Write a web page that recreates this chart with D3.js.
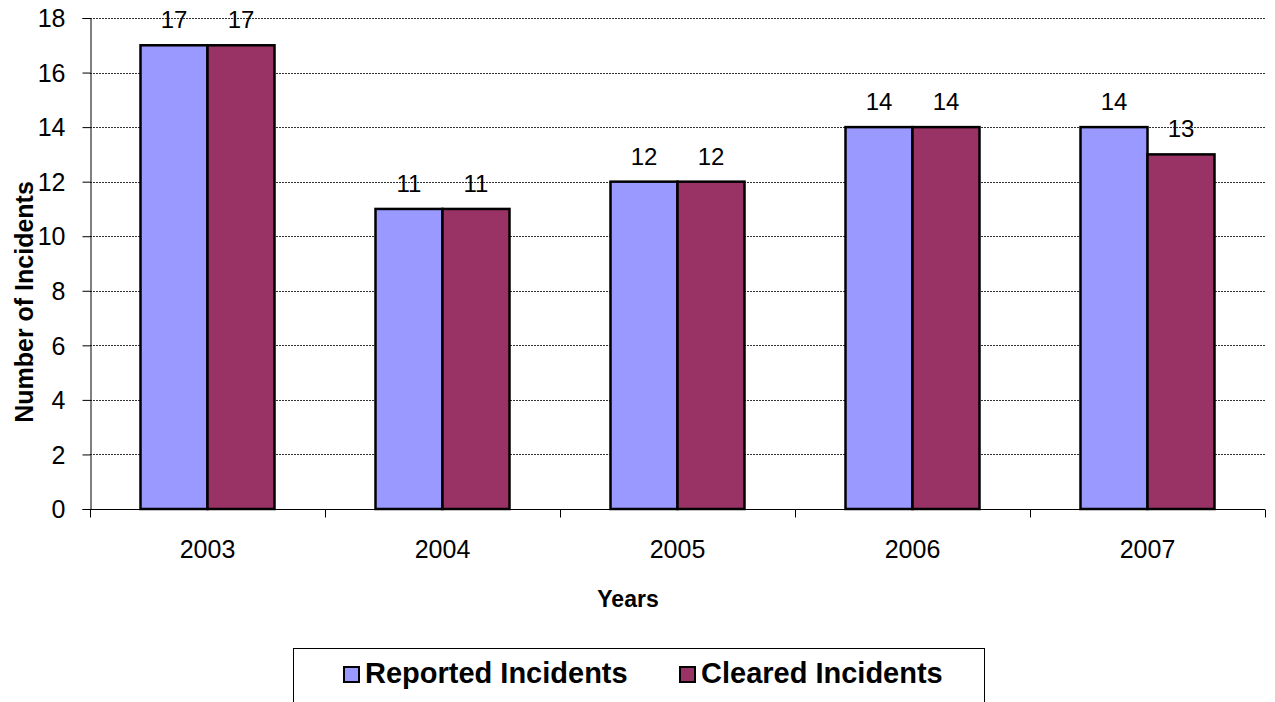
<!DOCTYPE html>
<html><head><meta charset="utf-8">
<script src="https://cdn.jsdelivr.net/npm/d3@7"></script>
<style>body{margin:0;background:#fff}svg{display:block;font-family:Arial,"Liberation Sans",sans-serif}</style>
</head><body><svg id="c" width="1275" height="702"></svg>
<script>
const years = ["2003","2004","2005","2006","2007"];
const reported = [17, 11, 12, 14, 14];
const cleared = [17, 11, 12, 14, 13];
const seriesNames = ["Reported Incidents","Cleared Incidents"];
const seriesColors = ["#9999FF","#993366"];
const yTicks = [0,2,4,6,8,10,12,14,16,18];

const FONT = "Arial, 'Liberation Sans', sans-serif";
const svg = d3.select("#c");
const m = {l:90, r:1265, t:18, b:509};
const x = d3.scaleBand().domain(years).range([m.l, m.r]).paddingInner(0).paddingOuter(0);
const y = d3.scaleLinear().domain([0,18]).range([m.b, m.t]);
const inner = d3.scaleBand().domain([0,1]).range([0, x.bandwidth()]).paddingInner(0).paddingOuter(50.5/67);

// gridlines
svg.append("g").selectAll("line").data(yTicks.filter(d=>d>0)).join("line")
  .attr("x1", m.l).attr("x2", m.r).attr("y1", d=>Math.round(y(d))+0.5).attr("y2", d=>Math.round(y(d))+0.5)
  .attr("stroke","#333").attr("stroke-width",1).attr("stroke-dasharray","2,1");

// y axis
const ya = svg.append("g").attr("transform",`translate(${m.l+0.5},0)`)
  .call(d3.axisLeft(y).tickValues(yTicks).tickSize(8).tickPadding(17));
ya.select(".domain").attr("stroke","#000");
ya.selectAll("line").attr("stroke","#000");
ya.selectAll("text").attr("font-size",25).attr("font-family",FONT).attr("fill","#000").attr("dy","0.35em");

// x axis
const xa = svg.append("g").attr("transform",`translate(0,${m.b+0.5})`)
  .call(d3.axisBottom(x).tickSize(0).tickPadding(0));
xa.select(".domain").remove();
xa.append("line").attr("x1",m.l).attr("x2",m.r).attr("stroke","#000");
const bounds = years.map(d=>x(d)).concat([m.r]);
xa.selectAll(".tk").data(bounds).join("line").attr("class","tk")
  .attr("x1",d=>d+0.5).attr("x2",d=>d+0.5).attr("y1",0).attr("y2",8).attr("stroke","#000");
xa.selectAll(".tick text").attr("font-size",25).attr("dy",0).attr("y",48.5)
  .attr("font-family",FONT).attr("fill","#000");

// bars
const data = years.map((yr,i)=>({yr, vals:[reported[i], cleared[i]]}));
const g = svg.append("g");
data.forEach(d=>{
  d.vals.forEach((v,j)=>{
    const bx = x(d.yr)+inner(j);
    g.append("rect").attr("x",bx).attr("y",y(v)).attr("width",inner.bandwidth()).attr("height",y(0)-y(v))
      .attr("fill",seriesColors[j]).attr("stroke","#000").attr("stroke-width",2.5);
    g.append("text").attr("x",bx+inner.bandwidth()/2).attr("y",y(v)-17)
      .attr("text-anchor","middle").attr("font-size",24).attr("fill","#000").text(v);
  });
});

// axis titles
svg.append("text").attr("transform","translate(33,302) rotate(-90)").attr("text-anchor","middle")
  .attr("font-size",25).attr("font-weight","bold").text("Number of Incidents");
svg.append("text").attr("x",628).attr("y",607).attr("text-anchor","middle")
  .attr("font-size",23).attr("font-weight","bold").text("Years");

// legend
svg.append("rect").attr("x",293.5).attr("y",648.5).attr("width",691).attr("height",70)
  .attr("fill","#fff").attr("stroke","#000").attr("stroke-width",1);
const lx = [344, 680];
seriesNames.forEach((n,i)=>{
  svg.append("rect").attr("x",lx[i]).attr("y",667).attr("width",15).attr("height",15)
    .attr("fill",seriesColors[i]).attr("stroke","#000").attr("stroke-width",2);
  svg.append("text").attr("x",lx[i]+21).attr("y",683).attr("font-size",29).attr("font-weight","bold")
    .attr("fill","#000").text(n);
});
</script></body></html>
